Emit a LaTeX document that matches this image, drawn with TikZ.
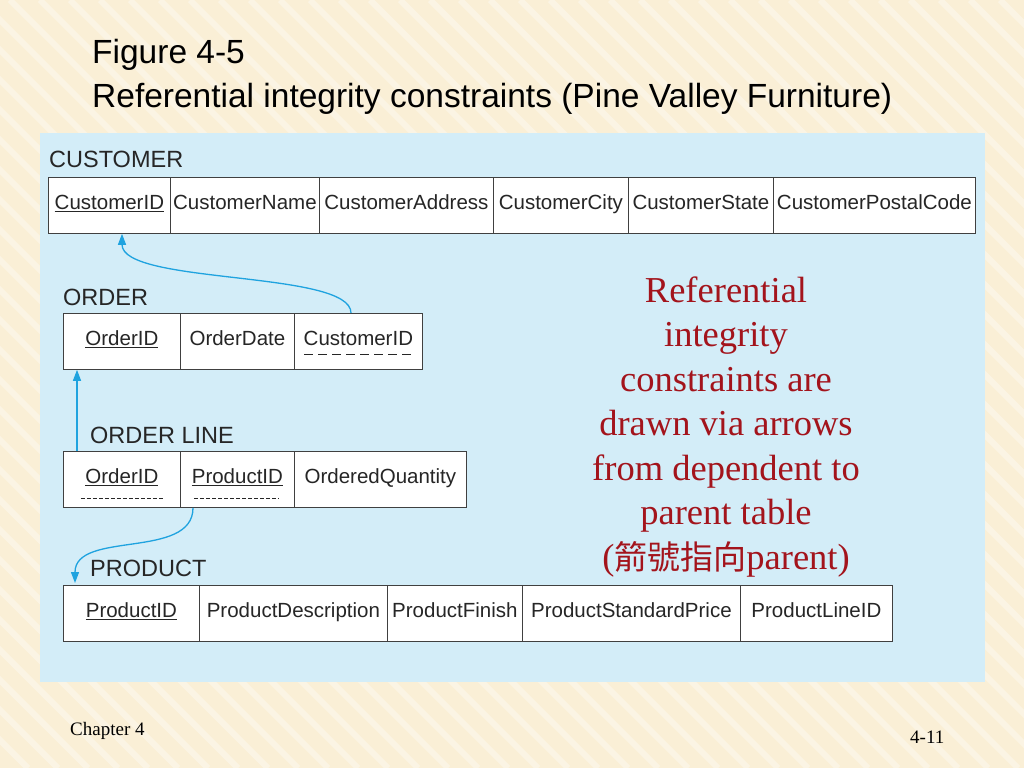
\documentclass[tikz,border=0pt]{standalone}
\usepackage{fontspec}
\setmainfont{Liberation Serif}
\setsansfont{Liberation Sans}
\newfontfamily\cjk{Noto Sans CJK TC}
\usetikzlibrary{calc,arrows.meta}
\definecolor{bg}{HTML}{FAEFD6}
\definecolor{panel}{HTML}{D3EDF8}
\definecolor{arr}{HTML}{1FA3DF}
\definecolor{red}{HTML}{A3141C}
\begin{document}
\begin{tikzpicture}[x=1pt,y=1pt,
 cell/.style={draw=black!75,fill=white,line width=0.8pt,anchor=north west,minimum height=56,inner sep=0,text height=13,text depth=5,font=\sffamily\fontsize{20.5}{22}\selectfont,text=black!85},
 tname/.style={anchor=west,inner sep=0,font=\sffamily\fontsize{23.5}{26}\selectfont,text=black!85},
 fk/.style={draw=black!85,dash pattern=on 9pt off 5pt,line width=0.9pt},
 fk2/.style={draw=black!85,dash pattern=on 4pt off 2pt,line width=0.7pt},
 ref/.style={draw=arr,line width=1.3pt,-{Triangle[length=11pt,width=8pt]}}]
\useasboundingbox (0,0) rectangle (1024,-768);
\fill[bg] (0,0) rectangle (1024,-768);
\foreach \i in {-800,-770,...,1024}{\draw[white,opacity=0.35,line width=6pt] (\i,0) -- (\i+768,-768);}
\fill[panel] (40,-133) rectangle (985,-682);
\node[anchor=west,inner sep=0,font=\sffamily\fontsize{33.5}{36}\selectfont] (t1) at (92,-55) {Figure 4-5};
\node[anchor=west,inner sep=0,font=\sffamily\fontsize{33.5}{36}\selectfont] (t2) at (92,-99) {Referential integrity constraints (Pine Valley Furniture)};
% CUSTOMER
\node[tname] (cn) at (49,-159) {CUSTOMER};
\node[cell,minimum width=122] (c1) at (48,-177) {\underline{CustomerID}};
\node[cell,minimum width=149] (c2) at (170,-177) {CustomerName};
\node[cell,minimum width=174] (c3) at (319,-177) {CustomerAddress};
\node[cell,minimum width=135] (c4) at (493,-177) {CustomerCity};
\node[cell,minimum width=145] (c5) at (628,-177) {CustomerState};
\node[cell,minimum width=202] (c6) at (773,-177) {CustomerPostalCode};
% ORDER
\node[tname] (on) at (63,-297) {ORDER};
\node[cell,minimum width=117] (o1) at (63,-313) {\underline{OrderID}};
\node[cell,minimum width=114] (o2) at (180,-313) {OrderDate};
\node[cell,minimum width=128] (o3) at (294,-313) {CustomerID};
\draw[fk] ($(o3.center)+(-54,-13)$) -- ($(o3.center)+(56,-13)$);
% ORDER LINE
\node[tname] (oln) at (90,-435) {ORDER LINE};
\node[cell,minimum width=117] (l1) at (63,-451) {\underline{OrderID}};
\node[cell,minimum width=114] (l2) at (180,-451) {\underline{ProductID}};
\node[cell,minimum width=172] (l3) at (294,-451) {OrderedQuantity};
\draw[fk2] ($(l1.center)+(-41,-19)$) -- ($(l1.center)+(42,-19)$);
\draw[fk2] ($(l2.center)+(-43,-19)$) -- ($(l2.center)+(42,-19)$);
% PRODUCT
\node[tname] (pn) at (90,-568) {PRODUCT};
\node[cell,minimum width=136] (p1) at (63,-585) {\underline{ProductID}};
\node[cell,minimum width=188] (p2) at (199,-585) {ProductDescription};
\node[cell,minimum width=135] (p3) at (387,-585) {ProductFinish};
\node[cell,minimum width=218] (p4) at (522,-585) {ProductStandardPrice};
\node[cell,minimum width=152] (p5) at (740,-585) {ProductLineID};
% arrows
\coordinate (a1) at ($(o3.north west)+(57,0)$);
\coordinate (a1e) at ($(c1.south west)+(74,0)$);
\draw[ref] (a1) .. controls (351,-270) and (122,-285) .. (a1e);
\coordinate (a2) at ($(l1.north west)+(14,0)$);
\coordinate (a2e) at ($(o1.south west)+(14,0)$);
\draw[ref] (a2) -- (a2e);
\coordinate (a3) at ($(l2.south west)+(13,0)$);
\coordinate (a3e) at (75,-583);
\draw[ref] (a3) .. controls (193,-560) and (75,-530) .. (a3e);
% note
\node[align=center,text=red,font=\fontsize{36.5}{44.5}\selectfont,inner sep=0] (note) at (726,-427) {Referential\\integrity\\constraints are\\drawn via arrows\\from dependent to\\parent table\\({\cjk\fontsize{33}{33}\selectfont 箭號指向}parent)};
% footer
\node[anchor=west,inner sep=0,font=\fontsize{19}{22}\selectfont] (f1) at (70,-731) {Chapter 4};
\node[anchor=west,inner sep=0,font=\fontsize{19}{22}\selectfont] (f2) at (910,-737) {4-11};
\end{tikzpicture}
\end{document}
